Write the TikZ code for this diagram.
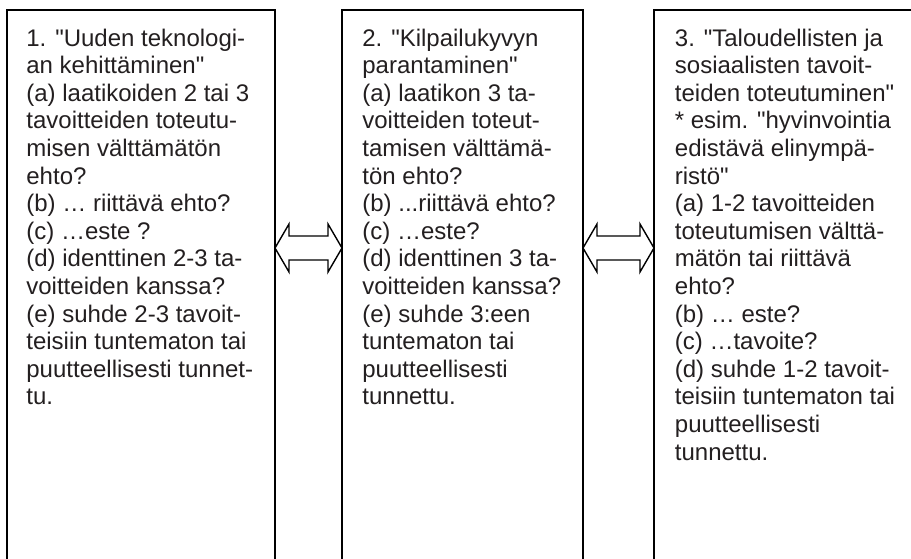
\documentclass[tikz,border=0pt]{standalone}
\usepackage{fontspec}
\setmainfont{Liberation Sans}[Ligatures=TeXOff]
\usetikzlibrary{calc}

\definecolor{inkgray}{RGB}{35,31,32}

\begin{document}
\begin{tikzpicture}[x=0.5pt,y=-0.5pt,
  panel/.style={draw=black, line width=1pt, anchor=north west, inner sep=0pt, outer sep=0pt},
  panetext/.style={anchor=north west, inner sep=0pt, align=left, text=inkgray,
    font=\fontsize{12}{13.8}\selectfont},
  blockarrow/.style={draw=black, line width=0.7pt, line join=miter}]
\useasboundingbox (0,0) rectangle (911,558);
\clip (0,0) rectangle (911,558);

% the three boxes (open at the bottom of the page)
\node[panel, minimum width=134pt, minimum height=300pt] (box1) at (7,10) {};
\node[panel, minimum width=120.5pt, minimum height=300pt] (box2) at (342,10) {};
\node[panel, minimum width=150pt, minimum height=300pt] (box3) at (654,10) {};

\node[panetext] (txt1) at ($(box1.north west)+(19,18.3)$) {%
1. "Uuden teknologi-\\
an kehittäminen"\\
(a) laatikoiden 2 tai 3\\
tavoitteiden toteutu-\\
misen välttämätön\\
ehto?\\
(b) … riittävä ehto?\\
(c) …este ?\\
(d) identtinen 2-3 ta-\\
voitteiden kanssa?\\
(e) suhde 2-3 tavoit-\\
teisiin tuntematon tai\\
puutteellisesti tunnet-\\
tu.};

\node[panetext] (txt2) at ($(box2.north west)+(20,18.3)$) {%
2. "Kilpailukyvyn\\
parantaminen"\\
(a) laatikon 3 ta-\\
voitteiden toteut-\\
tamisen välttämä-\\
tön ehto?\\
(b) ...riittävä ehto?\\
(c) …este?\\
(d) identtinen 3 ta-\\
voitteiden kanssa?\\
(e) suhde 3:een\\
tuntematon tai\\
puutteellisesti\\
tunnettu.};

\node[panetext] (txt3) at ($(box3.north west)+(20.5,18.3)$) {%
3. "Taloudellisten ja\\
sosiaalisten tavoit-\\
teiden toteutuminen"\\
* esim. "hyvinvointia\\
edistävä elinympä-\\
ristö"\\
(a) 1-2 tavoitteiden\\
toteutumisen välttä-\\
mätön tai riittävä\\
ehto?\\
(b) … este?\\
(c) …tavoite?\\
(d) suhde 1-2 tavoit-\\
teisiin tuntematon tai\\
puutteellisesti\\
tunnettu.};

% double block arrows between the boxes
\coordinate (a1) at ($(box1.north east)+(0,238)$);
\coordinate (b1) at ($(box2.north west)+(0,238)$);
\draw[blockarrow] (a1) -- ++(14,-24) -- ++(0,12) -- ($(b1)+(-14,-12)$) -- ++(0,-12) -- (b1)
  -- ++(-14,24) -- ++(0,-12) -- ($(a1)+(14,12)$) -- ++(0,12) -- cycle;

\coordinate (a2) at ($(box2.north east)+(0,238)$);
\coordinate (b2) at ($(box3.north west)+(0,238)$);
\draw[blockarrow] (a2) -- ++(14,-24) -- ++(0,12) -- ($(b2)+(-14,-12)$) -- ++(0,-12) -- (b2)
  -- ++(-14,24) -- ++(0,-12) -- ($(a2)+(14,12)$) -- ++(0,12) -- cycle;

\end{tikzpicture}
\end{document}
